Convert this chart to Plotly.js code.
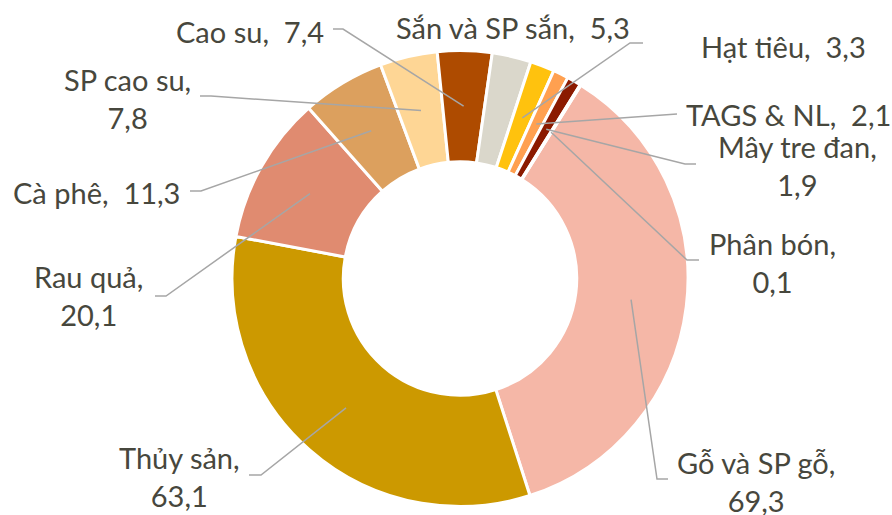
<!DOCTYPE html>
<html>
<head>
<meta charset="utf-8">
<script src="https://cdn.plot.ly/plotly-3.0.1.min.js"></script>
<style>
  html, body { margin: 0; padding: 0; background: #ffffff; }
  #chart { width: 892px; height: 515px; }
</style>
</head>
<body>
<div id="chart"></div>
<script>
// ---- data ----
const labels = ['Gỗ và SP gỗ', 'Thủy sản', 'Rau quả', 'Cà phê', 'SP cao su', 'Cao su',
                'Sắn và SP sắn', 'Hạt tiêu', 'TAGS & NL', 'Mây tre đan', 'Phân bón'];
const values = [69.3, 63.1, 20.1, 11.3, 7.8, 7.4, 5.3, 3.3, 2.1, 1.9, 0.1];

// ---- styles ----
const colors = ['#F5B7A7', '#CC9900', '#E08B70', '#DCA05E', '#FED695', '#AE4B00',
                '#DAD7CB', '#FFC20E', '#FFA050', '#8B1A00', '#C55A11'];

// ---- layout constants (pixels) ----
const W = 892, H = 515;
const CX = 460, CY = 278.5, R = 228, HOLE = 0.512, ROT = 32;
const FONT = 'Lato, "Open Sans", sans-serif';
const TXT = '#47473D';

// label layout: centre of label block, line break flag, leader path after anchor
const labelPos = [
  {x: 756,   y: 481,  br: true,  lead: [[657, 479], [668, 479]]},
  {x: 179,   y: 476,  br: true,  lead: [[261, 475], [249, 475]]},
  {x: 88.5,  y: 296,  br: true,  lead: [[166, 296], [155, 296]]},
  {x: 96.5,  y: 192,  br: false, lead: [[201, 191], [190, 191]]},
  {x: 127.5, y: 98.5, br: true,  lead: [[211, 96], [200, 96]]},
  {x: 249.5, y: 31.5, br: false, lead: [[343, 29], [333, 29]]},
  {x: 512.5, y: 27.5, br: false, lead: null},
  {x: 783.5, y: 46,   br: false, lead: [[630, 43], [643, 43]]},
  {x: 788,   y: 114,  br: false, lead: [[677, 114]]},
  {x: 797,   y: 165.5,br: true,  lead: [[685, 164], [696, 164]]},
  {x: 772.5, y: 262,  br: true,  lead: [[687, 260], [699, 260]]}
];

const px = x => x / W;
const py = y => 1 - y / H;

// slice anchors computed from the values (mid-angle, mid-ring radius)
const total = values.reduce((a, b) => a + b, 0);
const rMid = R * (1 + HOLE) / 2;
let cum = 0;
const anchors = values.map(v => {
  const a = (ROT + (cum + v / 2) / total * 360) * Math.PI / 180;
  cum += v;
  return [CX + rMid * Math.sin(a), CY - rMid * Math.cos(a)];
});

const shapes = [];
const annotations = [];
labels.forEach((lab, i) => {
  const L = labelPos[i];
  const val = values[i].toFixed(1).replace('.', ',');
  const text = L.br ? (lab + ',<br>' + val) : (lab + ', \u00a0' + val);
  annotations.push({
    xref: 'paper', yref: 'paper', x: px(L.x), y: py(L.y),
    xanchor: 'center', yanchor: 'middle', align: 'center',
    text: text, showarrow: false,
    font: {family: FONT, size: 29, color: TXT}
  });
  if (L.lead) {
    const pts = [anchors[i]].concat(L.lead);
    const path = pts.map((p, k) => (k ? 'L' : 'M') + px(p[0]).toFixed(5) + ',' + py(p[1]).toFixed(5)).join(' ');
    shapes.push({
      type: 'path', xref: 'paper', yref: 'paper', path: path,
      line: {color: '#A6A6A6', width: 1.5}, layer: 'above'
    });
  }
});

const trace = {
  type: 'pie',
  labels: labels,
  values: values,
  hole: HOLE,
  sort: false,
  direction: 'clockwise',
  rotation: ROT,
  textinfo: 'none',
  hoverinfo: 'label+value',
  marker: {colors: colors, line: {color: '#ffffff', width: 3}},
  domain: {
    x: [(CX - R) / W, (CX + R) / W],
    y: [(H - CY - R) / H, (H - CY + R) / H]
  }
};

const layout = {
  width: W, height: H,
  margin: {l: 0, r: 0, t: 0, b: 0},
  paper_bgcolor: '#ffffff',
  showlegend: false,
  shapes: shapes,
  annotations: annotations
};

Plotly.newPlot('chart', [trace], layout, {displayModeBar: false, staticPlot: true});
</script>
</body>
</html>
